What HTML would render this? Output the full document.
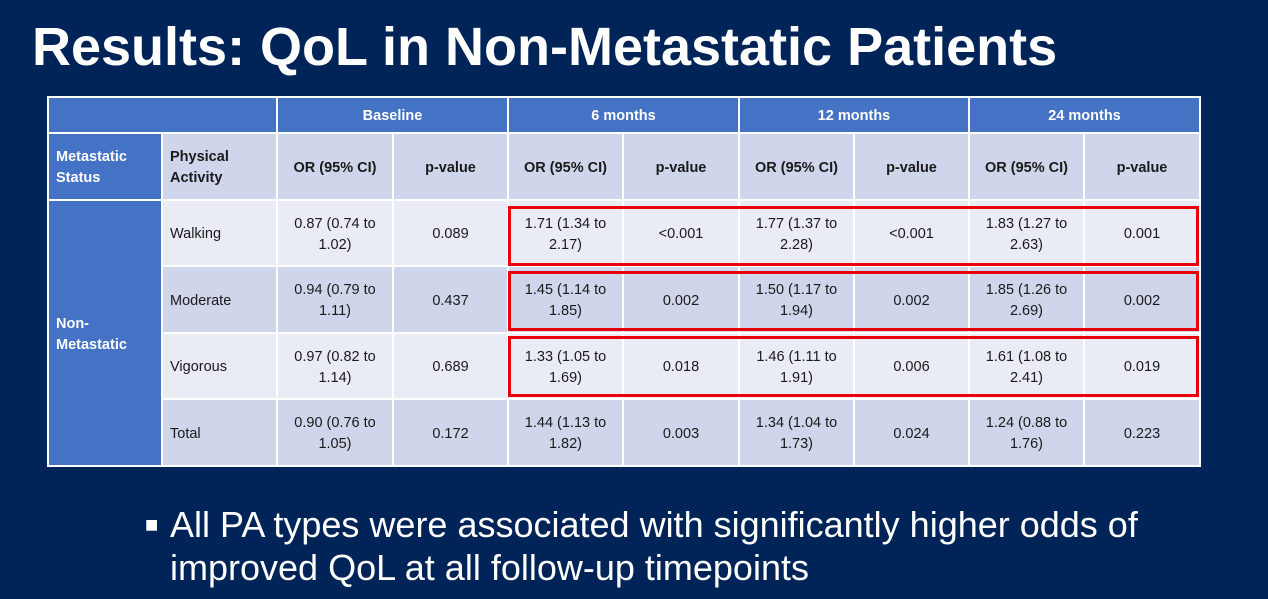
<!DOCTYPE html>
<html><head><meta charset="utf-8"><style>
body{margin:0;width:1268px;height:599px;background:#002457;position:relative;overflow:hidden;font-family:"Liberation Sans",Arial,sans-serif}
.t{position:absolute;left:32px;top:16px;color:#fff;font-weight:bold;font-size:54px;letter-spacing:0px;white-space:nowrap}
.c{position:absolute;box-sizing:border-box;display:flex;align-items:center;justify-content:center;text-align:center;font-size:14.5px;color:#1a1a1a;line-height:21px;border-right:2px solid #fff;border-bottom:2px solid #fff;padding-top:3px}
.h{background:#4472C4;color:#fff;font-weight:bold}
.a{background:#E9EBF5}.b{background:#CFD5EA}
.bold{font-weight:bold}
.l{justify-content:flex-start;text-align:left;padding-left:7px}
.r{position:absolute;border:3px solid #E8000B;box-sizing:border-box}
.bl{position:absolute;color:#fff;font-size:36px;line-height:43px;white-space:nowrap}
</style></head><body>
<div class="t">Results: QoL in Non-Metastatic Patients</div>
<div style="position:absolute;left:47px;top:96px;width:1154px;height:371px;background:#fff"></div>
<div id="tb"></div>
<script>
var xs=[49,163,278,394,509,624,740,855,970,1085,1201];
var ys=[98,134,201,267,334,400,467];
var h='';
function cell(c1,c2,r1,r2,cls,txt){h+='<div class="c '+cls+'" style="left:'+xs[c1]+'px;top:'+ys[r1]+'px;width:'+(xs[c2]-xs[c1])+'px;height:'+(ys[r2]-ys[r1])+'px">'+txt+'</div>';}
cell(0,2,0,1,'h','');
['Baseline','6 months','12 months','24 months'].forEach(function(t,i){cell(2+2*i,4+2*i,0,1,'h',t);});
cell(0,1,1,2,'h l','Metastatic<br>Status');
cell(1,2,1,2,'b bold l','Physical<br>Activity');
for(var i=0;i<4;i++){cell(2+2*i,3+2*i,1,2,'b bold','OR (95% CI)');cell(3+2*i,4+2*i,1,2,'b bold','p-value');}
cell(0,1,2,6,'h l','Non-<br>Metastatic');
var rows=[['Walking','0.87 (0.74 to<br>1.02)','0.089','1.71 (1.34 to<br>2.17)','&lt;0.001','1.77 (1.37 to<br>2.28)','&lt;0.001','1.83 (1.27 to<br>2.63)','0.001'],
['Moderate','0.94 (0.79 to<br>1.11)','0.437','1.45 (1.14 to<br>1.85)','0.002','1.50 (1.17 to<br>1.94)','0.002','1.85 (1.26 to<br>2.69)','0.002'],
['Vigorous','0.97 (0.82 to<br>1.14)','0.689','1.33 (1.05 to<br>1.69)','0.018','1.46 (1.11 to<br>1.91)','0.006','1.61 (1.08 to<br>2.41)','0.019'],
['Total','0.90 (0.76 to<br>1.05)','0.172','1.44 (1.13 to<br>1.82)','0.003','1.34 (1.04 to<br>1.73)','0.024','1.24 (0.88 to<br>1.76)','0.223']];
rows.forEach(function(r,k){var cl=k%2?'b':'a';cell(1,2,2+k,3+k,cl+' l',r[0]);for(var j=1;j<9;j++)cell(1+j,2+j,2+k,3+k,cl,r[j]);});
h+='<div class="r" style="left:508px;top:206px;width:691px;height:60px"></div>';
h+='<div class="r" style="left:508px;top:271px;width:691px;height:60px"></div>';
h+='<div class="r" style="left:508px;top:336px;width:691px;height:61px"></div>';
document.getElementById('tb').innerHTML=h;
</script>
<div class="bl" style="left:145px;top:503px;font-size:22px">&#9632;</div>
<div class="bl" style="left:170px;top:503px">All PA types were associated with significantly higher odds of<br>improved QoL at all follow-up timepoints</div>
</body></html>
